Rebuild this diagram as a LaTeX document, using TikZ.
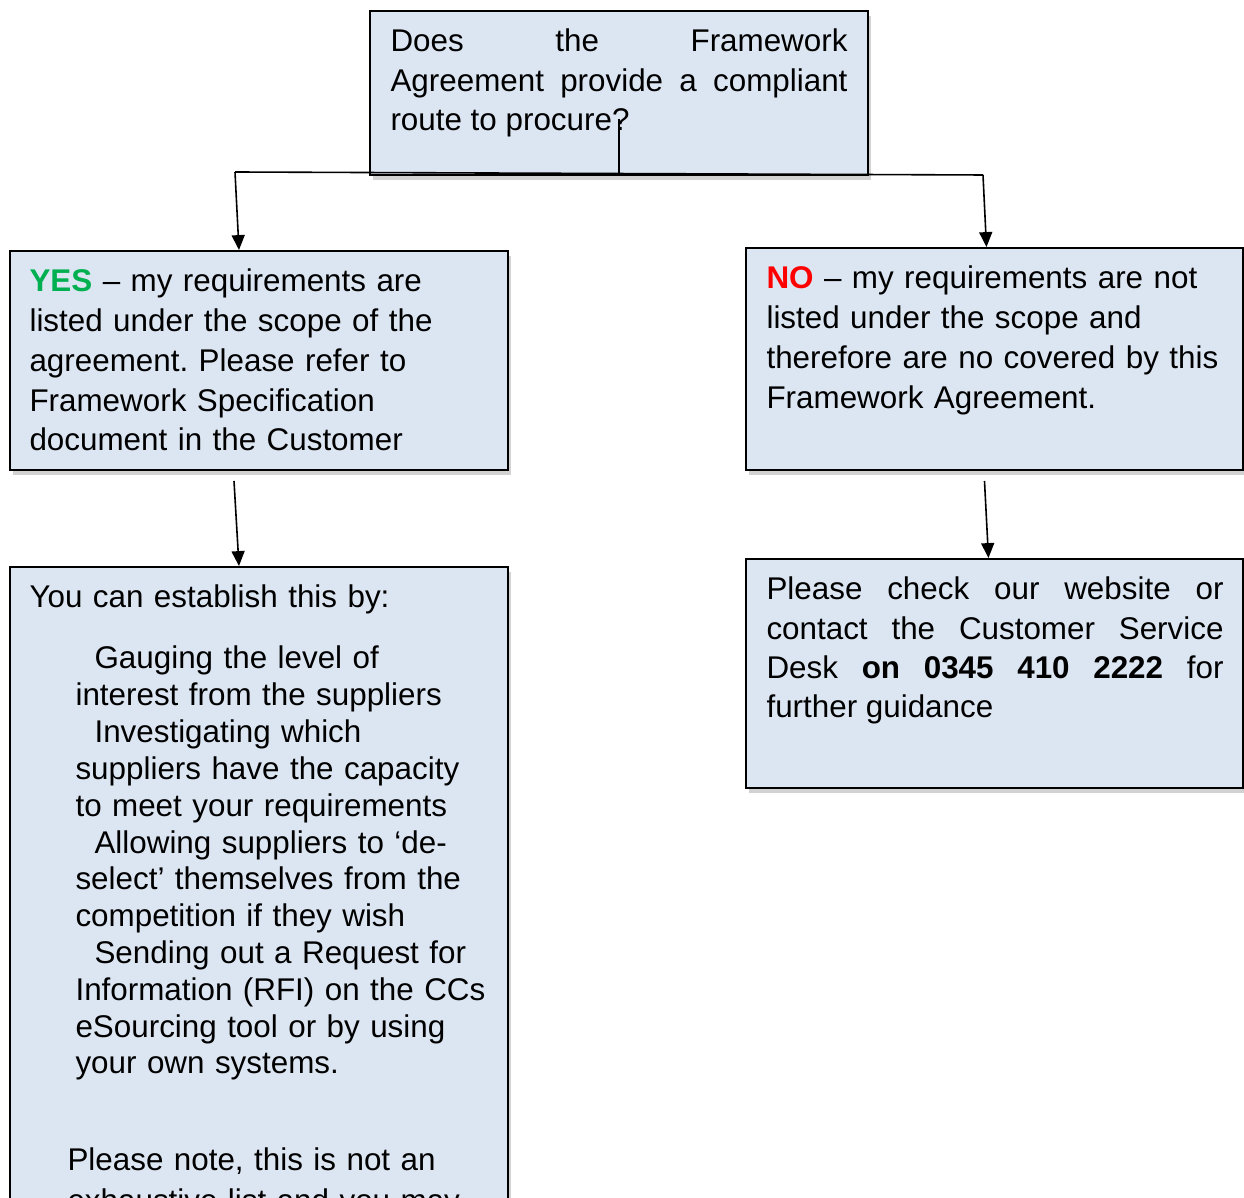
\documentclass[tikz,border=0pt]{standalone}
\usepackage{fontspec}
\setmainfont{Liberation Sans}
\usetikzlibrary{arrows.meta, positioning, shadows}
\definecolor{boxblue}{HTML}{DCE6F2}
\definecolor{yesgreen}{HTML}{00B050}
\definecolor{nored}{HTML}{FF0000}
\newlength\pxl
\setlength\pxl{0.376pt}
\frenchspacing

\begin{document}
\begin{tikzpicture}[x=0.376pt, y=-0.376pt]
		\tikzstyle{Box} = [rectangle, draw=black, fill=boxblue, line width=0.75pt, inner sep=0pt, drop shadow={shadow xshift=1.3pt, shadow yshift=-1.7pt, fill=black!35}]
		\tikzstyle{BoxText} = [inner sep=0pt, anchor=base west, align=left, text width=480\pxl, font=\fontsize{11.8}{14.93}\selectfont]
		\tikzstyle{line} = [line width=0.6pt]
		\tikzstyle{arrow} = [line width=0.6pt, -{Triangle[length=5.6pt, width=4.9pt]}]

		\useasboundingbox (0,0) rectangle (1244,1198);
		\clip (0,0) rectangle (1244,1198);

		% boxes
		\node (q) [Box, minimum width=498\pxl, minimum height=164\pxl] at (619,93) {};
		\node (yes) [Box, minimum width=498\pxl, minimum height=219\pxl] at (259,360.5) {};
		\node (no) [Box, minimum width=497\pxl, minimum height=222\pxl] at (994.5,359) {};
		\node (ybot) [Box, minimum width=498\pxl, minimum height=663\pxl] at (259,898.5) {};
		\node (nbot) [Box, minimum width=497\pxl, minimum height=229\pxl] at (994.5,673.5) {};

		% texts
		\node (qtext) [BoxText, align=justify, text width=457\pxl, font=\fontsize{11.8}{14.85}\selectfont] at ([xshift=21\pxl, yshift=-42\pxl]q.north west)
			{Does the Framework\linebreak Agreement provide a compliant\linebreak route to procure?};
		\node (yestext) [BoxText] at ([xshift=20\pxl, yshift=-42\pxl]yes.north west)
			{\textbf{\textcolor{yesgreen}{YES}} – my requirements are\\ listed under the scope of the\\ agreement. Please refer to\\ Framework Specification\\ document in the Customer};
		\node (notext) [BoxText] at ([xshift=21\pxl, yshift=-42\pxl]no.north west)
			{\textbf{\textcolor{nored}{NO}} – my requirements are not\\ listed under the scope and\\ therefore are no covered by this\\ Framework Agreement.};
		\node (intro) [BoxText] at ([xshift=20\pxl, yshift=-42\pxl]ybot.north west)
			{You can establish this by:};
		\node (steps) [BoxText, font=\fontsize{11.8}{13.84}\selectfont] at ([xshift=66\pxl, yshift=-103\pxl]ybot.north west)
			{\hspace*{19\pxl}Gauging the level of\\ interest from the suppliers\\
			\hspace*{19\pxl}Investigating which\\ suppliers have the capacity\\ to meet your requirements\\
			\hspace*{19\pxl}Allowing suppliers to ‘de-\\ select’ themselves from the\\ competition if they wish\\
			\hspace*{19\pxl}Sending out a Request for\\ Information (RFI) on the CCs\\ eSourcing tool or by using\\ your own systems.};
		\node (note) [BoxText, font=\fontsize{11.8}{15.2}\selectfont] at ([xshift=58\pxl, yshift=-605\pxl]ybot.north west)
			{Please note, this is not an\\ exhaustive list and you may};
		\node (nbottext) [BoxText, align=justify, text width=457\pxl, font=\fontsize{11.8}{14.78}\selectfont] at ([xshift=21\pxl, yshift=-42\pxl]nbot.north west)
			{Please check our website or\linebreak contact the Customer Service\linebreak Desk \textbf{on 0345 410 2222} for\linebreak further guidance};

		% connectors
		\coordinate (lc) at (235,172);
		\coordinate (rc) at (983,175);
		\draw[line] ([yshift=57\pxl]q.south) -- (q.south);
		\draw[line] (lc) -- (rc);
		\draw[arrow] (lc) -- ([xshift=-20\pxl]yes.north);
		\draw[arrow] (rc) -- ([xshift=-8\pxl]no.north);
		\draw[arrow] ([xshift=-25\pxl, yshift=-10\pxl]yes.south) -- ([xshift=-20\pxl]ybot.north);
		\draw[arrow] ([xshift=-10\pxl, yshift=-10\pxl]no.south) -- ([xshift=-6\pxl]nbot.north);
\end{tikzpicture}
\end{document}
